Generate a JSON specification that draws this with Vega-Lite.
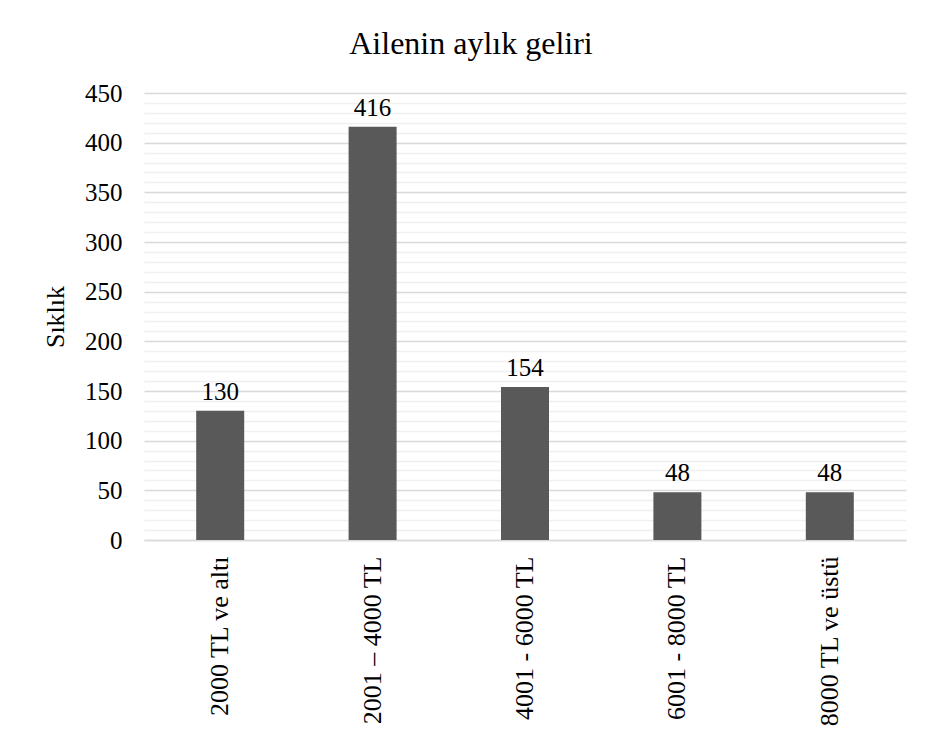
{
  "$schema": "https://vega.github.io/schema/vega-lite/v6.json",
  "autosize": {"type": "none"},
  "width": 762,
  "height": 447,
  "padding": {"left": 144, "top": 93, "right": 22, "bottom": 207},
  "background": "white",
  "title": {
    "text": "Ailenin aylık geliri",
    "font": "Liberation Serif",
    "fontSize": 32,
    "fontWeight": "normal",
    "color": "#000000",
    "anchor": "middle",
    "dx": -54,
    "offset": 20
  },
  "data": {
    "values": [
      {"kategori": "2000 TL ve altı", "siklik": 130},
      {"kategori": "2001 – 4000 TL", "siklik": 416},
      {"kategori": "4001 - 6000 TL", "siklik": 154},
      {"kategori": "6001 - 8000 TL", "siklik": 48},
      {"kategori": "8000 TL ve üstü", "siklik": 48}
    ]
  },
  "encoding": {
    "x": {
      "field": "kategori",
      "type": "nominal",
      "sort": null,
      "scale": {"paddingInner": 0.685, "paddingOuter": 0.3425},
      "axis": {
        "title": null,
        "labelAngle": -90,
        "labelFont": "Liberation Serif",
        "labelFontSize": 26,
        "labelColor": "#000000",
        "labelPadding": 16,
        "ticks": false,
        "domain": true,
        "domainColor": "#d9d9d9",
        "domainWidth": 1.5,
        "labelLimit": 300
      }
    },
    "y": {
      "field": "siklik",
      "type": "quantitative",
      "scale": {"domain": [0, 450], "nice": false},
      "axis": {
        "title": "Sıklık",
        "titleFont": "Liberation Serif",
        "titleFontSize": 26,
        "titleFontWeight": "normal",
        "titleColor": "#000000",
        "titlePadding": 16,
        "values": [0, 10, 20, 30, 40, 50, 60, 70, 80, 90, 100, 110, 120, 130, 140, 150, 160, 170, 180, 190, 200, 210, 220, 230, 240, 250, 260, 270, 280, 290, 300, 310, 320, 330, 340, 350, 360, 370, 380, 390, 400, 410, 420, 430, 440, 450],
        "labelExpr": "datum.value % 50 === 0 ? datum.label : ''",
        "labelFont": "Liberation Serif",
        "labelFontSize": 25,
        "labelColor": "#000000",
        "labelPadding": 22,
        "ticks": false,
        "domain": false,
        "grid": true,
        "gridColor": {"condition": {"test": "datum.value % 50 === 0", "value": "#d9d9d9"}, "value": "#f0f0f0"},
        "gridWidth": 1.5
      }
    }
  },
  "layer": [
    {"mark": {"type": "bar", "color": "#595959"}},
    {
      "mark": {
        "type": "text",
        "font": "Liberation Serif",
        "fontSize": 25,
        "color": "#000000",
        "baseline": "alphabetic",
        "dy": -11
      },
      "encoding": {"text": {"field": "siklik", "type": "quantitative"}}
    }
  ],
  "config": {
    "font": "Liberation Serif",
    "view": {"stroke": null}
  }
}
